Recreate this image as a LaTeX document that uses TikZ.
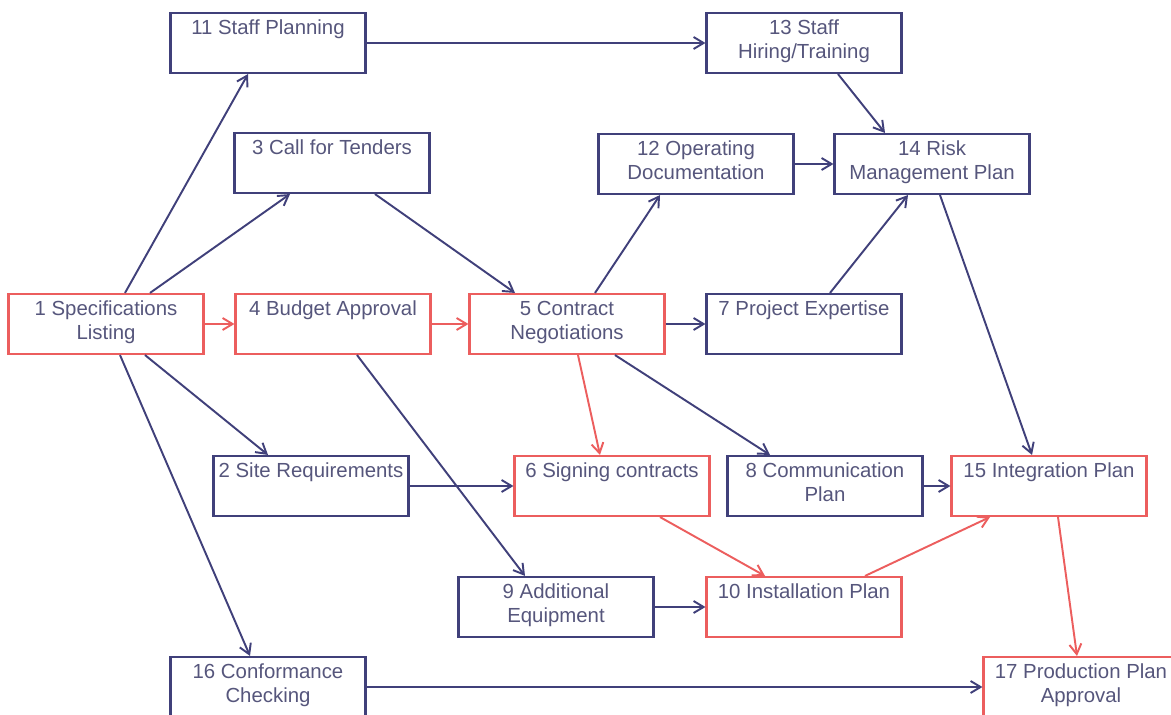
\documentclass[tikz,border=0pt]{standalone}
\usepackage{fontspec}
\setmainfont{Liberation Sans}
\usetikzlibrary{arrows.meta}
\definecolor{azulescuro}{RGB}{64,64,122}
\definecolor{textoazul}{RGB}{86,86,124}
\definecolor{vermelho}{RGB}{236,94,94}
\newcommand{\tarefa}[1]{\parbox[c][0.92cm][t]{3.8cm}{\centering #1}}

\begin{document}
\begin{tikzpicture}[x=0.02cm, y=-0.02cm,
    caixa/.style={draw=azulescuro, line width=1.2pt, fill=white, inner xsep=0.05cm, inner ysep=0.14cm,
        minimum width=3.9cm, minimum height=1.2cm, text=textoazul, font=\fontsize{11.6}{13.6}\selectfont},
    critica/.style={caixa, draw=vermelho},
    seta/.style={-{Straight Barb[length=2mm,width=2.4mm]}, line width=1.1pt, azulescuro},
    setacrit/.style={seta, vermelho}]

    \useasboundingbox (0,0) rectangle (1171,715);

    % Tarefas
    \node[caixa]   (n11) at (268,43)  {\tarefa{11 Staff Planning}};
    \node[caixa]   (n13) at (804,43)  {\tarefa{13 Staff\\Hiring/Training}};
    \node[caixa]   (n3)  at (332,163) {\tarefa{3 Call for Tenders}};
    \node[caixa]   (n12) at (696,164) {\tarefa{12 Operating\\Documentation}};
    \node[caixa]   (n14) at (932,164) {\tarefa{14 Risk\\Management Plan}};
    \node[critica] (n1)  at (106,324) {\tarefa{1 Specifications\\Listing}};
    \node[critica] (n4)  at (333,324) {\tarefa{4 Budget Approval}};
    \node[critica] (n5)  at (567,324) {\tarefa{5 Contract\\Negotiations}};
    \node[caixa]   (n7)  at (804,324) {\tarefa{7 Project Expertise}};
    \node[caixa]   (n2)  at (311,486) {\tarefa{2 Site Requirements}};
    \node[critica] (n6)  at (612,486) {\tarefa{6 Signing contracts}};
    \node[caixa]   (n8)  at (825,486) {\tarefa{8 Communication\\Plan}};
    \node[critica] (n15) at (1049,486) {\tarefa{15 Integration Plan}};
    \node[caixa]   (n9)  at (556,607) {\tarefa{9 Additional\\Equipment}};
    \node[critica] (n10) at (804,607) {\tarefa{10 Installation Plan}};
    \node[caixa]   (n16) at (268,687) {\tarefa{16 Conformance\\Checking}};
    \node[critica] (n17) at (1081,687) {\tarefa{17 Production Plan\\Approval}};

    % Dependencias
    \draw[seta] ([xshift=0.38cm]n1.north) -- ([xshift=-0.4cm]n11.south);
    \draw[seta] ([xshift=0.88cm]n1.north) -- ([xshift=-0.84cm]n3.south);
    \draw[seta] ([xshift=0.78cm]n1.south) -- ([xshift=-0.86cm]n2.north);
    \draw[seta] ([xshift=0.28cm]n1.south) -- ([xshift=-0.36cm]n16.north);
    \draw[seta] (n11.east) -- (n13.west);
    \draw[seta] ([xshift=0.68cm]n13.south) -- ([xshift=-0.94cm]n14.north);
    \draw[seta] ([xshift=0.86cm]n3.south) -- ([xshift=-1.04cm]n5.north);
    \draw[seta] ([xshift=0.48cm]n4.south) -- ([xshift=-0.62cm]n9.north);
    \draw[seta] ([xshift=0.56cm]n5.north) -- ([xshift=-0.72cm]n12.south);
    \draw[seta] (n5.east) -- (n7.west);
    \draw[seta] ([xshift=0.96cm]n5.south) -- ([xshift=-1.1cm]n8.north);
    \draw[seta] (n12.east) -- (n14.west);
    \draw[seta] ([xshift=0.52cm]n7.north) -- ([xshift=-0.48cm]n14.south);
    \draw[seta] ([xshift=0.16cm]n14.south) -- ([xshift=-0.34cm]n15.north);
    \draw[seta] (n2.east) -- (n6.west);
    \draw[seta] (n8.east) -- (n15.west);
    \draw[seta] (n9.east) -- (n10.west);
    \draw[seta] (n16.east) -- (n17.west);

    % Caminho critico
    \draw[setacrit] (n1.east) -- (n4.west);
    \draw[setacrit] (n4.east) -- (n5.west);
    \draw[setacrit] ([xshift=0.22cm]n5.south) -- ([xshift=-0.24cm]n6.north);
    \draw[setacrit] ([xshift=0.96cm]n6.south) -- ([xshift=-0.78cm]n10.north);
    \draw[setacrit] ([xshift=1.22cm]n10.north) -- ([xshift=-1.18cm]n15.south);
    \draw[setacrit] ([xshift=0.18cm]n15.south) -- ([xshift=-0.08cm]n17.north);

\end{tikzpicture}
\end{document}
